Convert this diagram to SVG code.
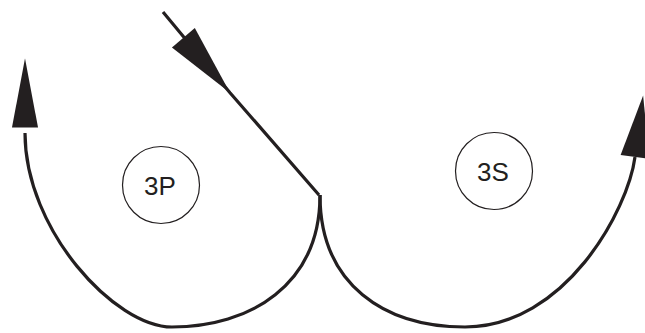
<svg xmlns="http://www.w3.org/2000/svg" width="645" height="333" viewBox="0 0 645 333">
  <style>
    .flow { fill: none; stroke: #231f20; stroke-width: 3.2; }
    .node circle { fill: #fff; stroke: #231f20; stroke-width: 1.2; }
    .node text { font-family: "Liberation Sans", Arial, sans-serif; font-size: 26px; fill: #231f20; text-anchor: middle; }
    .head { fill: #231f20; }
  </style>
  <defs>
    <marker id="arrow-mid" markerUnits="userSpaceOnUse" orient="auto" markerWidth="80" markerHeight="34" viewBox="0 -17 80 34" refX="72" refY="0" overflow="visible">
      <path class="head" d="M0,-15 L72,0 L0,15 Z"/>
    </marker>
    <marker id="arrow-gap" markerUnits="userSpaceOnUse" orient="auto" markerWidth="80" markerHeight="34" viewBox="-6 -17 86 34" refX="-6" refY="0" overflow="visible">
      <path class="head" d="M0,-14 L74,0 L0,14 Z"/>
    </marker>
    <marker id="arrow-end" markerUnits="userSpaceOnUse" orient="auto" markerWidth="80" markerHeight="34" viewBox="0 -17 80 34" refX="0" refY="0" overflow="visible">
      <path class="head" d="M0,-14.5 L62,0 L0,14.5 Z"/>
    </marker>
  </defs>
  <g id="node-3P" class="node">
    <circle cx="161" cy="185" r="38.5"/>
    <text x="160" y="194.5">3P</text>
  </g>
  <g id="node-3S" class="node">
    <circle cx="494" cy="171" r="38.5"/>
    <text x="493" y="180.5">3S</text>
  </g>
  <g id="connectors">
    <path class="flow" d="M163,12 L230,92.7 L319,195" marker-mid="url(#arrow-mid)"/>
    <path class="flow" d="M320,195 C320,285 250,327 172,327 C115,327 25,230 25,133" marker-end="url(#arrow-gap)"/>
    <path class="flow" d="M320,195 C320,285 385,327 465,327 C565,327 628,210 635,157" marker-end="url(#arrow-end)"/>
  </g>
</svg>
